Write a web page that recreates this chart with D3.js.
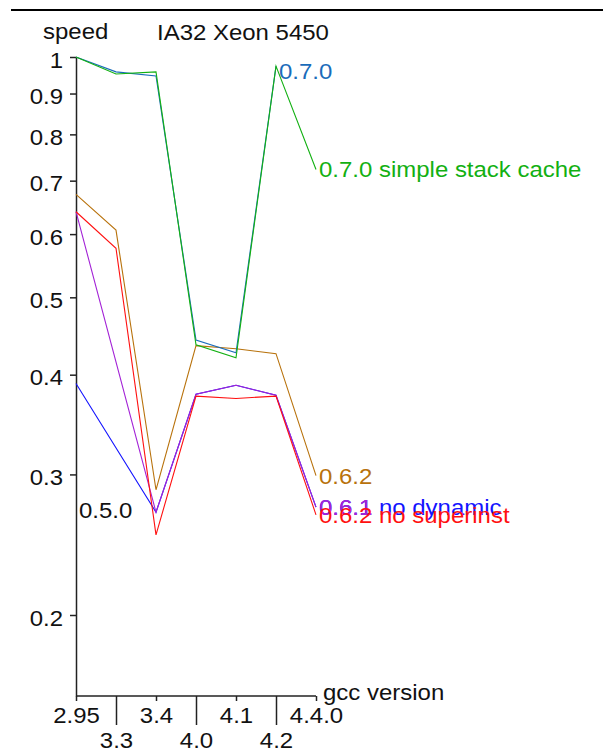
<!DOCTYPE html>
<html>
<head>
<meta charset="utf-8">
<script src="https://cdn.jsdelivr.net/npm/d3@7"></script>
<style>
  body { margin: 0; background: #fff; }
  svg { display: block; }
  text { font-family: "Liberation Sans", Arial, sans-serif; font-size: 22px; fill: #111; }
  .axis path, .axis line { stroke: #222; stroke-width: 1.5; }
  .series { fill: none; stroke-width: 1.1; }
</style>
</head>
<body>
<svg width="603" height="754"></svg>
<script>
// gcc versions on the x axis
var versions = ["2.95", "3.3", "3.4", "4.0", "4.1", "4.2", "4.4.0"];

// speed values per series, null where there is no measurement
var v050 = [0.271, null, null, null, null, null, null];
var v061noDyn = [0.390, null, 0.269, 0.378, 0.388, 0.377, 0.273];
var v061 = [0.640, null, 0.269, 0.378, 0.388, 0.377, 0.273];
var v062 = [0.673, 0.607, 0.287, 0.435, 0.431, 0.425, 0.299];
var v062noSuper = [0.640, 0.576, 0.252, 0.376, 0.3735, 0.376, 0.267];
var v070 = [1.0, 0.958, 0.947, 0.442, 0.426, 0.974, null];
var v070ssc = [1.0, 0.952, 0.958, 0.436, 0.420, 0.974, 0.723];

var seriesNames = ["0.5.0", "0.6.1 no dynamic", "0.6.1", "0.6.2", "0.6.2 no superinst", "0.7.0", "0.7.0 simple stack cache"];
var seriesValues = [v050, v061noDyn, v061, v062, v062noSuper, v070, v070ssc];
var seriesColors = ["#111111", "#1414ff", "#a322d6", "#b8720c", "#ff1010", "#1a6cba", "#12b012"];

var yTicks = [1, 0.9, 0.8, 0.7, 0.6, 0.5, 0.4, 0.3, 0.2];

// small vertical nudge for end labels (pixels)
var labelShift = { "0.7.0": 5 };

var svg = d3.select("svg");

// top rule
svg.append("line")
  .attr("x1", 11).attr("x2", 603)
  .attr("y1", 10).attr("y2", 10)
  .attr("stroke", "#000").attr("stroke-width", 2);

// scales
var x = d3.scalePoint().domain(versions).range([76, 316]);
var y0 = d3.scaleLog().domain([0.2, 1]).range([615, 57]);
var y = d3.scaleLog().domain([y0.invert(696), 1]).range([696, 57]);

// y axis
var yAxis = svg.append("g")
  .attr("class", "axis")
  .attr("transform", "translate(76,0)")
  .call(d3.axisLeft(y).tickValues(yTicks).tickFormat(function(d) { return String(d); }).tickSize(6).tickSizeOuter(0));
yAxis.selectAll("text").attr("x", -13).attr("dy", null).attr("y", 10).attr("fill", "#111");

// x axis, alternating short and long ticks with two label rows
var xAxis = svg.append("g")
  .attr("class", "axis")
  .attr("transform", "translate(0,696)")
  .call(d3.axisBottom(x).tickSize(5).tickSizeOuter(0));
xAxis.select(".domain").attr("d", "M" + x(versions[0]) + ",0H" + x(versions[versions.length - 1]));
xAxis.selectAll(".tick").each(function(d, i) {
  var g = d3.select(this);
  g.select("line").attr("y2", i % 2 ? 29 : 5);
  g.select("text").attr("dy", null).attr("y", i % 2 ? 52 : 27).attr("fill", "#111");
});

// axis titles
svg.append("text").attr("x", 43).attr("y", 39).text("speed");
svg.append("text").attr("x", 157).attr("y", 40).text("IA32 Xeon 5450");
svg.append("text").attr("x", 323).attr("y", 700).text("gcc version");

var line = d3.line()
  .x(function(d) { return x(d.v); })
  .y(function(d) { return y(d.s); });

seriesNames.forEach(function(name, i) {
  var pts = [];
  seriesValues[i].forEach(function(s, j) {
    if (s != null) pts.push({ v: versions[j], s: s });
  });
  svg.append("path")
    .datum(pts)
    .attr("class", "series")
    .attr("stroke", seriesColors[i])
    .attr("d", line);
  var last = pts[pts.length - 1];
  svg.append("text")
    .attr("x", x(last.v) + 3)
    .attr("y", y(last.s) + (labelShift[name] || 0))
    .attr("dy", "0.36em")
    .style("fill", seriesColors[i])
    .text(name);
});

// the original lettering is a bit wider than it is tall
svg.selectAll("text").each(function() {
  var t = d3.select(this);
  var tx = +t.attr("x") || 0, ty = +t.attr("y") || 0;
  t.attr("x", 0).attr("y", 0)
    .attr("transform", "translate(" + tx + "," + ty + ") scale(1.09,1)");
});
</script>
</body>
</html>
